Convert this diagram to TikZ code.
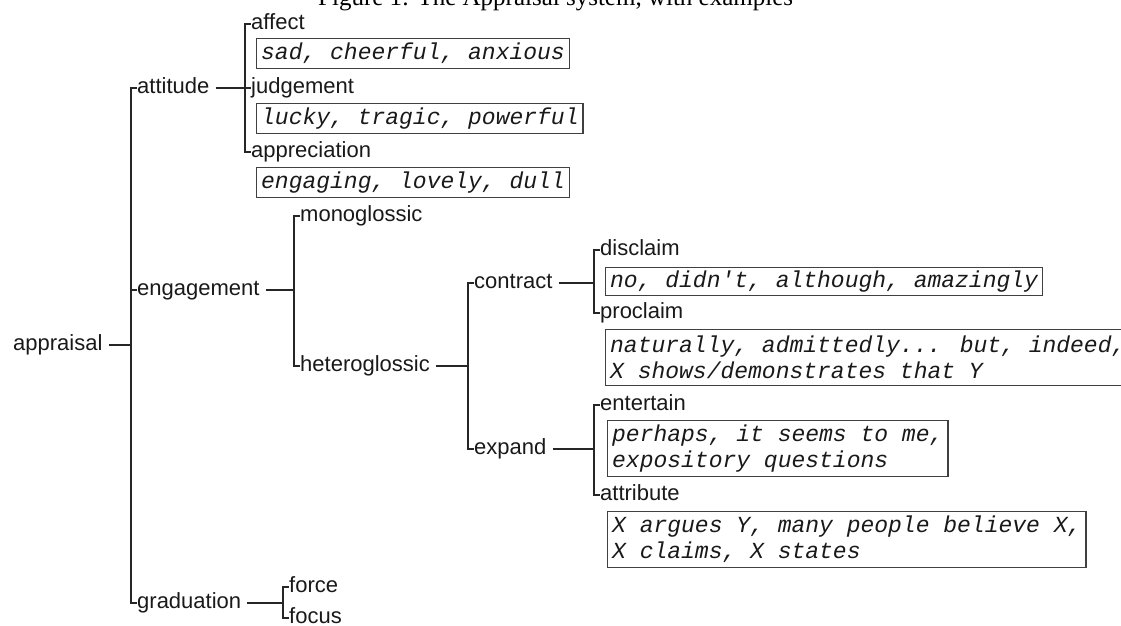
\documentclass[tikz,border=0pt]{standalone}
\usepackage{fontspec}
\setmainfont{Liberation Sans}
\newfontfamily\exfont{Liberation Mono}
\newfontfamily\capfont{Liberation Serif}

\tikzset{
	term/.style={anchor=west, inner sep=0pt, text=black!90,
		font=\fontsize{22}{26}\selectfont, text height=16pt, text depth=5pt},
	examples/.style={draw=black!75, line width=1.3pt, anchor=north west,
		inner xsep=4.5pt, inner ysep=0pt, align=left, text=black!90,
		font=\exfont\itshape\fontsize{23}{26}\selectfont},
	branch/.style={line width=1.3pt, draw=black!85},
}

\begin{document}
\begin{tikzpicture}[x=1pt, y=-1pt]
	\useasboundingbox (0,0) rectangle (1121,626);

	\node[anchor=base west, inner sep=0pt, font=\capfont\fontsize{25}{28}\selectfont] (caption) at (318,6)
		{Figure 1: The Appraisal system, with examples};

	\node[term] (appraisal)     at (13,345)  {appraisal};
	\node[term] (attitude)      at (137,88)  {attitude};
	\node[term] (engagement)    at (137,290) {engagement};
	\node[term] (graduation)    at (137,603) {graduation};

	\node[term] (affect)        at (251,24)  {affect};
	\node[term] (judgement)     at (251,88)  {judgement};
	\node[term] (appreciation)  at (251,152) {appreciation};

	\node[term] (monoglossic)   at (300,216) {monoglossic};
	\node[term] (heteroglossic) at (300,366) {heteroglossic};
	\node[term] (contract)      at (474,283) {contract};
	\node[term] (expand)        at (474,449) {expand};

	\node[term] (disclaim)      at (600,250) {disclaim};
	\node[term] (proclaim)      at (600,313) {proclaim};
	\node[term] (entertain)     at (600,405) {entertain};
	\node[term] (attribute)     at (600,495) {attribute};

	\node[term] (force)         at (289,587) {force};
	\node[term] (focus)         at (289,618) {focus};

	% example boxes
	\node[examples, minimum height=30pt] (exaffect)       at (256,38)  {sad, cheerful, anxious};
	\node[examples, minimum height=30pt] (exjudgement)    at (256,103) {lucky, tragic, powerful};
	\node[examples, minimum height=30pt] (exappreciation) at (256,167) {engaging, lovely, dull};
	\node[examples, minimum height=28pt] (exdisclaim)     at (605,267) {no, didn't, although, amazingly};
	\node[examples, minimum height=56pt] (exproclaim)     at (605,329)
		{naturally, admittedly... but, indeed,\\X shows/demonstrates that Y};
	\node[examples, minimum height=56pt] (exentertain)    at (607,420)
		{perhaps, it seems to me,\\expository questions};
	\node[examples, minimum height=56pt] (exattribute)    at (607,511)
		{X argues Y, many people believe X,\\X claims, X states};

	% brackets
	\foreach \p / \a / \b in {
	appraisal/attitude/graduation,
	attitude/affect/appreciation,
	engagement/monoglossic/heteroglossic,
	heteroglossic/contract/expand,
	contract/disclaim/proclaim,
	expand/entertain/attribute,
	graduation/force/focus}
	{
		\coordinate (br) at ([xshift=-6pt]\a.west);
		\draw[branch] (\a.west) -- (br) -- (br |- \b.west) -- (\b.west);
		\draw[branch] ([xshift=6pt]\p.east) -- (br |- \p.east);
	};
	\foreach \m in {engagement, judgement}
	{
		\draw[branch] (\m.west) -- ++(-6,0);
	};
\end{tikzpicture}
\end{document}
